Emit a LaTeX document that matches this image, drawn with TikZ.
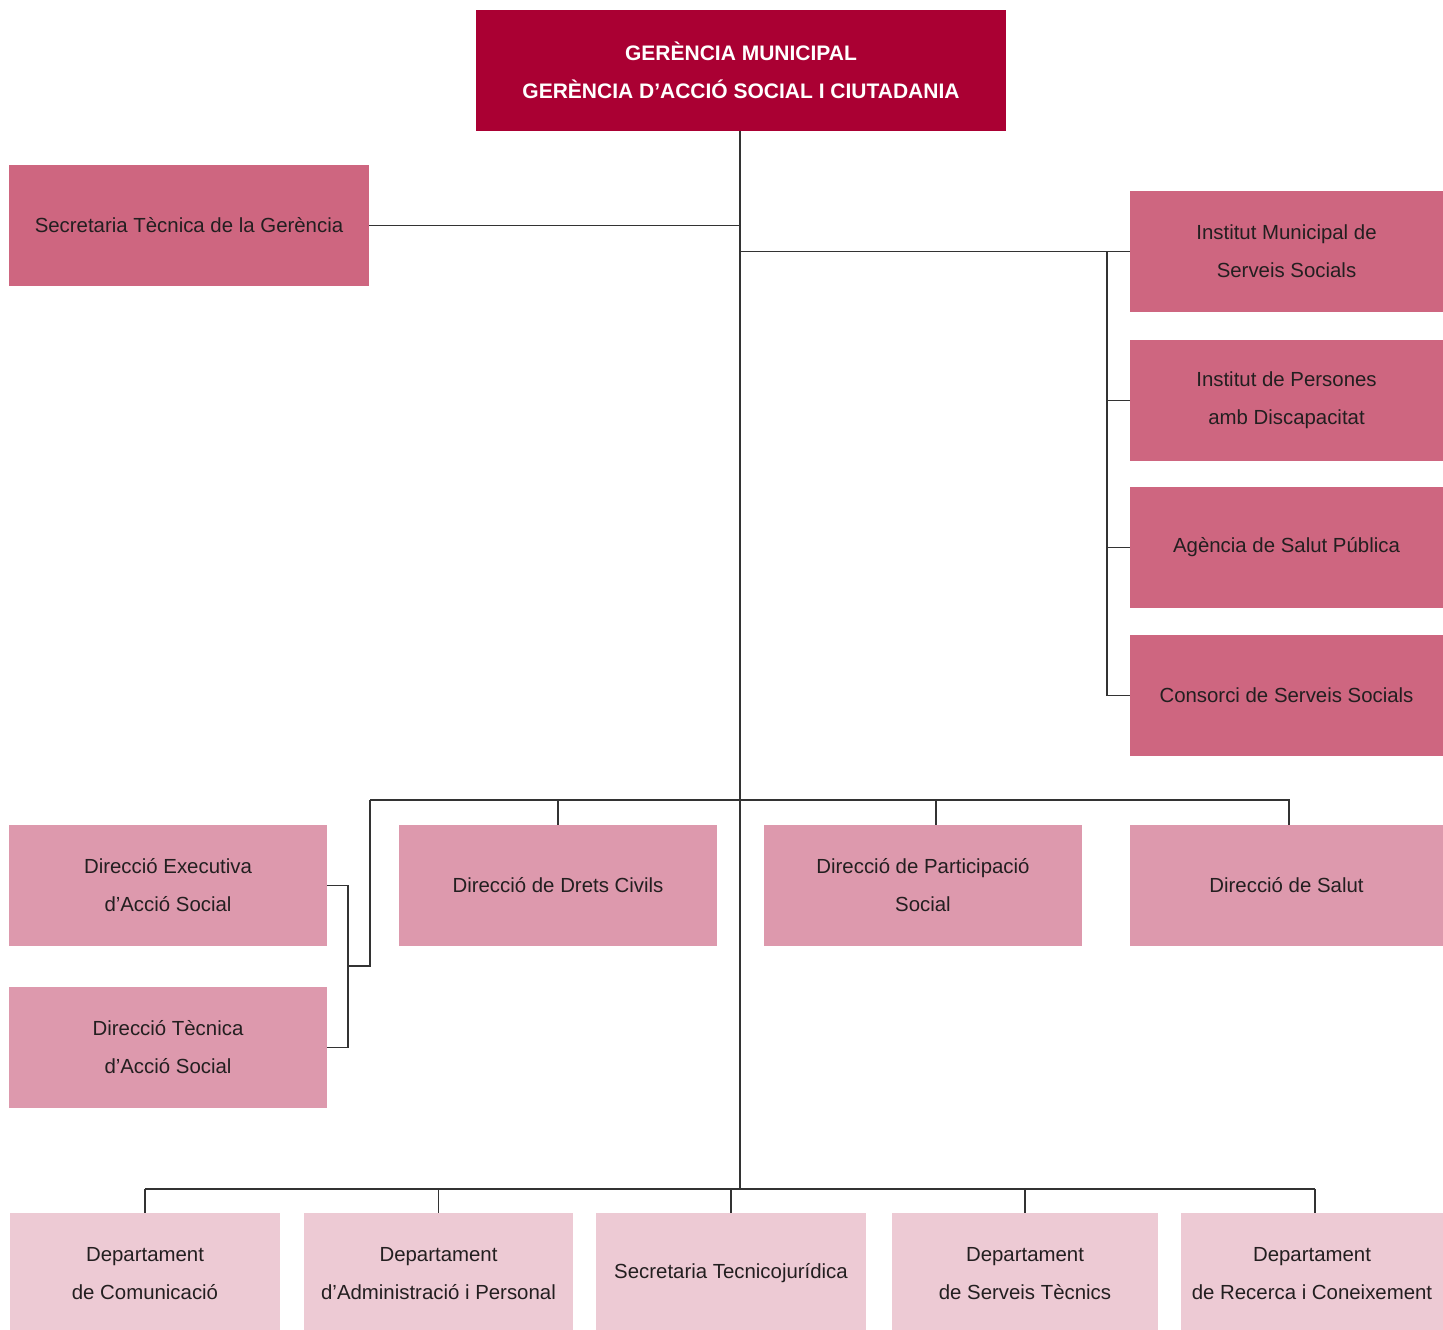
\documentclass[tikz,border=0pt]{standalone}
\usepackage{fontspec}
\setmainfont{Liberation Sans}
\definecolor{gerencia}{HTML}{AA0033}
\definecolor{rosamig}{HTML}{CE6680}
\definecolor{rosaclar}{HTML}{DD99AD}
\definecolor{rosapal}{HTML}{EDCAD4}
\definecolor{tinta}{HTML}{231F20}
\begin{document}
\begin{tikzpicture}[x=1pt, y=-1pt,
		font=\fontsize{20.4}{38}\selectfont, text=tinta,
		box/.style={inner sep=0pt, align=center, minimum height=121pt},
		top/.style={box, fill=gerencia, text=white, font=\fontsize{21}{38}\selectfont\bfseries, minimum width=530pt},
		nivell1/.style={box, fill=rosamig, minimum width=#1},
		nivell2/.style={box, fill=rosaclar, minimum width=#1},
		nivell3/.style={box, fill=rosapal, minimum width=#1},
		link/.style={line width=1.2pt, draw=black!80}]
	\useasboundingbox (0,0) rectangle (1443,1330);
	% gerencia
	\node[top] (gm) at (741,70.5) {GERÈNCIA MUNICIPAL\\GERÈNCIA D’ACCIÓ SOCIAL I CIUTADANIA};
	\node[nivell1=360pt] (stg) at (189,225.5) {Secretaria Tècnica de la Gerència};
	% organismes a la dreta
	\node[nivell1=313pt] (imss) at (1286.5,251.5) {Institut Municipal de\\Serveis Socials};
	\node[nivell1=313pt] (ipd) at (1286.5,400.5) {Institut de Persones\\amb Discapacitat};
	\node[nivell1=313pt] (asp) at (1286.5,547.5) {Agència de Salut Pública};
	\node[nivell1=313pt] (css) at (1286.5,695.5) {Consorci de Serveis Socials};
	% direccions
	\node[nivell2=318pt] (dea) at (168,885.5) {Direcció Executiva\\d’Acció Social};
	\node[nivell2=318pt] (dta) at (168,1047.5) {Direcció Tècnica\\d’Acció Social};
	\node[nivell2=318pt] (ddc) at (558,885.5) {Direcció de Drets Civils};
	\node[nivell2=318pt] (dps) at (923,885.5) {Direcció de Participació\\Social};
	\node[nivell2=313pt] (dsa) at (1286.5,885.5) {Direcció de Salut};
	% departaments (tallats pel marge inferior)
	\node[nivell3=270pt] (dcom) at (145,1273.5) {Departament\\de Comunicació};
	\node[nivell3=269pt] (dadm) at (438.5,1273.5) {Departament\\d’Administració i Personal};
	\node[nivell3=270pt] (stj) at (731,1273.5) {Secretaria Tecnicojurídica};
	\node[nivell3=266pt] (dst) at (1025,1273.5) {Departament\\de Serveis Tècnics};
	\node[nivell3=262pt] (drc) at (1312,1273.5) {Departament\\de Recerca i Coneixement};
	
	\coordinate (rail) at (1107,252);
	\coordinate (mbar) at (370,800);
	\coordinate (lrail) at (348,966);
	\coordinate (bbar) at (740,1189);
	% entrades que no cauen al centre de la caixa
	\coordinate (dpsin) at ([xshift=13pt]dps.north);
	\coordinate (dsain) at ([xshift=2.5pt]dsa.north);
	\coordinate (drcin) at ([xshift=3pt]drc.north);
	
	% tronc
	\draw[link] (gm.south -| bbar) -- (bbar);
	\draw[link] (stg.east) -- (stg.east -| bbar);
	\draw[link] (imss.west -| bbar) -- (imss.west);
	\draw[link] (rail |- imss.west) -- (rail |- css.west);
	\foreach \n in {ipd,asp,css} {
		\draw[link] (rail |- \n.west) -- (\n.west);
	};
	\draw[link] (mbar) -- (mbar -| dsain) -- (dsain);
	\foreach \n in {ddc.north,dpsin} {
		\draw[link] (mbar -| \n) -- (\n);
	};
	\draw[link] (mbar) |- (lrail);
	\draw[link] (dea.east) -| (lrail |- dta.east) -- (dta.east);
	\draw[link] (dcom.north |- bbar) -- (bbar -| drcin);
	\foreach \n in {dcom.north,dadm.north,stj.north,dst.north,drcin} {
		\draw[link] (\n |- bbar) -- (\n);
	};
\end{tikzpicture}
\end{document}
